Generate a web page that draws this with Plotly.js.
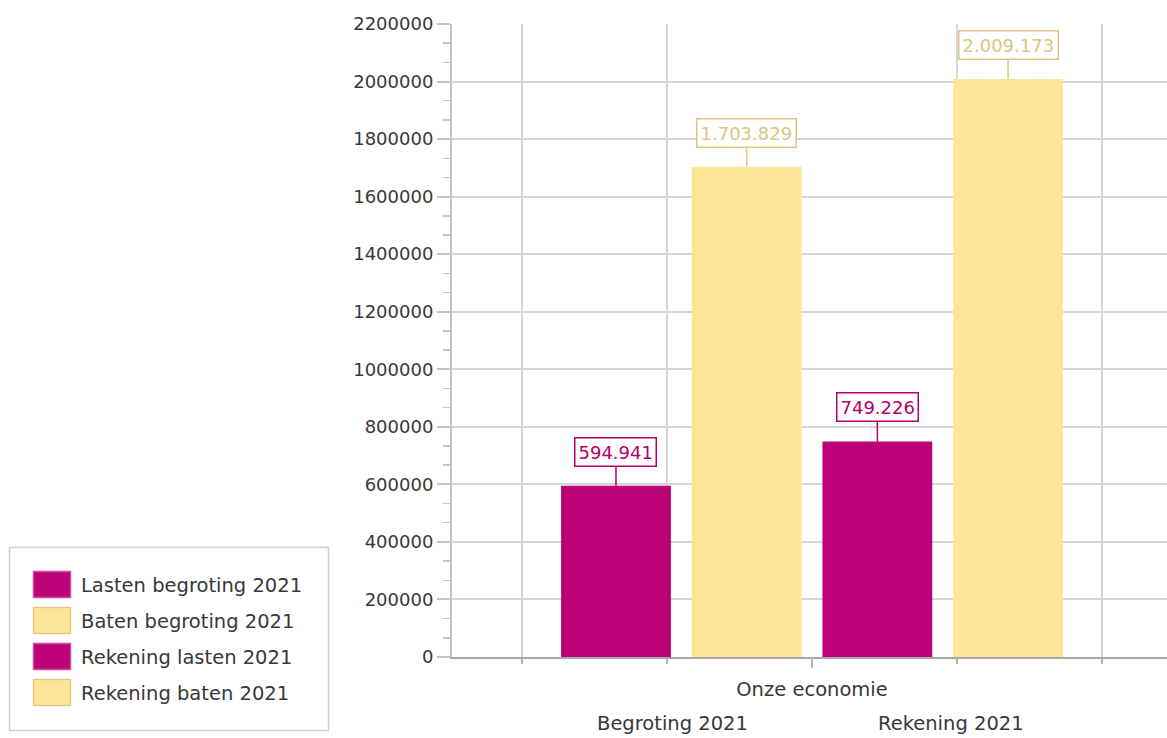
<!DOCTYPE html>
<html>
<head>
<meta charset="utf-8">
<script src="https://cdn.plot.ly/plotly-3.0.1.min.js"></script>
<style>html,body{margin:0;padding:0;background:#fff;}#chart{width:1167px;height:738px;}</style>
</head>
<body>
<div id="chart"></div>
<script>
// ---- data ----
var category = ["Onze economie"];
var seriesNames = ["Lasten begroting 2021", "Baten begroting 2021", "Rekening lasten 2021", "Rekening baten 2021"];
var seriesValues = [594941, 1703829, 749226, 2009173];
var groupLabels = ["Begroting 2021", "Rekening 2021"];
var yTickVals = [0, 200000, 400000, 600000, 800000, 1000000, 1200000, 1400000, 1600000, 1800000, 2000000, 2200000];

// ---- style ----
var MAGENTA = "#BC0077", YELLOW = "#FDE598";
var barColors = [MAGENTA, YELLOW, MAGENTA, YELLOW];
var labelColors = ["#B3006F", "#DCC482", "#B3006F", "#DCC482"];
var swatchBorders = ["#D04A9A", "#E2CA86", "#D04A9A", "#E2CA86"];
var TXT = "#383838";
var FONT = "DejaVu Sans";
var L = 452, R = 1167, T = 24, B = 657;
var bargap = 0.274, bargroupgap = 0.16;
var xr = [-0.5, 0.493];

function fmtNL(v) { return String(v).replace(/\B(?=(\d{3})+(?!\d))/g, "."); }
function pxX(p) { return (p - L) / (R - L); }
function pxY(p) { return (B - p) / (B - T); }

// empty helper trace so the base (grid) axis pair is drawn
var traces = [{ type: "scatter", mode: "none", x: [], y: [], xaxis: "x", yaxis: "y", hoverinfo: "none", showlegend: false }];
seriesNames.forEach(function (n, i) {
  traces.push({
    type: "bar", name: n, x: category, y: [seriesValues[i]],
    xaxis: "x2", yaxis: "y",
    marker: { color: barColors[i], line: { width: 0 } },
    hoverinfo: "none", showlegend: false
  });
});

var annotations = [];
var slot = (1 - bargap) / seriesNames.length;
seriesValues.forEach(function (v, i) {
  annotations.push({
    xref: "x2", yref: "y", x: -(1 - bargap) / 2 + (i + 0.5) * slot, y: v,
    text: fmtNL(v), showarrow: true, arrowhead: 0, arrowwidth: 1.5,
    arrowcolor: labelColors[i], ax: 0, ay: -34,
    bgcolor: "#ffffff", bordercolor: labelColors[i], borderwidth: 1.5, borderpad: 3,
    font: { family: FONT, size: 18, color: labelColors[i] }
  });
});
// group sub labels
var groupCentersPx = [672, 951];
groupLabels.forEach(function (g, i) {
  annotations.push({
    xref: "paper", yref: "paper", x: pxX(groupCentersPx[i]), y: pxY(723),
    xanchor: "center", yanchor: "middle", showarrow: false, text: g,
    font: { family: FONT, size: 19.5, color: TXT }
  });
});

// custom legend
var shapes = [{
  type: "rect", xref: "paper", yref: "paper",
  x0: pxX(9.5), x1: pxX(328.5), y0: pxY(547.5), y1: pxY(730.5),
  line: { color: "#cfcfcf", width: 1.5 }, fillcolor: "#ffffff", layer: "above"
}];
seriesNames.forEach(function (n, i) {
  var top = 571 + i * 36;
  shapes.push({
    type: "rect", xref: "paper", yref: "paper",
    x0: pxX(33.5), x1: pxX(70.5), y0: pxY(top + 26.5), y1: pxY(top + 0.5),
    line: { color: swatchBorders[i], width: 1.5 }, fillcolor: barColors[i], layer: "above"
  });
  annotations.push({
    xref: "paper", yref: "paper", x: pxX(79), y: pxY(top + 14),
    xanchor: "left", yanchor: "middle", showarrow: false, text: n,
    font: { family: FONT, size: 19.5, color: TXT }
  });
});

var layout = {
  width: 1167, height: 738,
  margin: { l: L, r: 1167 - R, t: T, b: 738 - B, pad: 0 },
  paper_bgcolor: "#ffffff", plot_bgcolor: "#ffffff",
  barmode: "group", bargap: bargap, bargroupgap: bargroupgap,
  showlegend: false,
  xaxis: {
    type: "linear", range: xr, fixedrange: true, anchor: "y",
    tickvals: [-0.4028, -0.2014, 0.2014, 0.4028], showticklabels: false,
    ticks: "outside", ticklen: 5, tickwidth: 2, tickcolor: "#b5b5b5",
    showgrid: true, gridcolor: "#d6d6d6", gridwidth: 2,
    zeroline: false, showline: true, linecolor: "#a8a8a8", linewidth: 2
  },
  xaxis2: {
    type: "category", overlaying: "x", anchor: "y", side: "bottom", range: xr,
    ticks: "outside", ticklen: 10, tickwidth: 2, tickcolor: "#b5b5b5",
    showgrid: false, zeroline: false, showline: false, ticklabelstandoff: 5,
    tickfont: { family: FONT, size: 19.5, color: TXT }
  },
  yaxis: {
    range: [0, 2200000], tickvals: yTickVals, tickformat: ".0f",
    ticks: "outside", ticklen: 13, tickwidth: 2, tickcolor: "#c4c4c4",
    showgrid: true, gridcolor: "#d6d6d6", gridwidth: 2,
    zeroline: false, showline: true, linecolor: "#c4c4c4", linewidth: 2,
    tickfont: { family: FONT, size: 18, color: TXT },
    minor: { dtick: 200000 / 3, ticks: "outside", ticklen: 7, tickwidth: 1.5, tickcolor: "#c4c4c4", showgrid: false }
  },
  annotations: annotations,
  shapes: shapes,
  font: { family: FONT, color: TXT }
};

Plotly.newPlot("chart", traces, layout, { displayModeBar: false, staticPlot: true });
</script>
</body>
</html>
